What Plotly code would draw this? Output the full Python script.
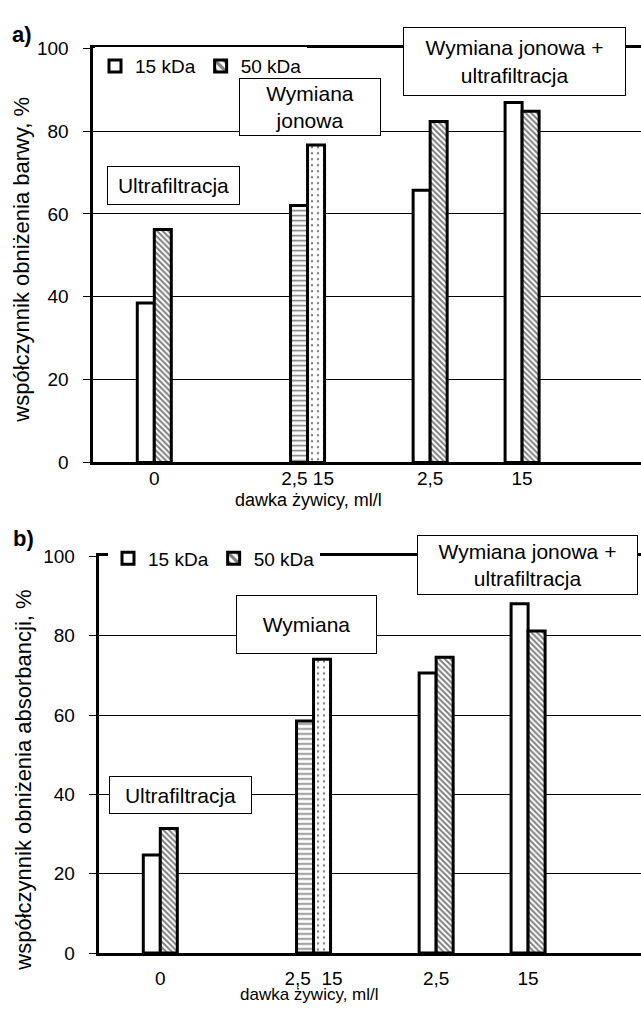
import plotly.graph_objects as go

W, H = 641, 1013

# ---- data ----
group_slots = [2, 7, 11, 14]          # slot index of each bar group along the dose axis
tick_labels_a = ["0", "2,5 15", "2,5", "15"]
tick_labels_b = ["0", "2,5  15", "2,5", "15"]
y_ticks = [0, 20, 40, 60, 80, 100]
series_names = ["15 kDa", "50 kDa"]

a_15kDa = [38.5, 62.0, 65.7, 86.9]
a_50kDa = [56.2, 76.6, 82.3, 84.8]
b_15kDa = [24.7, 58.5, 70.6, 88.1]
b_50kDa = [31.4, 74.1, 74.6, 81.2]

pattern_15 = ["", "-", "", ""]
pattern_50 = ["\\", ".", "\\", "\\"]

y_title_a = "współczynnik obniżenia barwy, %"
y_title_b = "współczynnik obniżenia absorbancji, %"
x_title = "dawka żywicy, ml/l"

FONT = "Liberation Sans, Arial, sans-serif"
UNIT = 30.65     # px per slot
BW = 0.555       # bar width in slots
GAP = "\u00a0\u00a0"  # keeps y tick labels away from the ticks

PAT_SIZE = {"": 5, "\\": 4, "-": 5, ".": 6}
PAT_SOLID = {"": 0.3, "\\": 0.5, "-": 0.32, ".": 0.12}


def px_x(x):
    return x / W


def px_y(y):
    return 1 - y / H


def bar(vals, shapes, name, xa, ya, legend, offset):
    return go.Bar(
        x=group_slots, y=vals, name=name, xaxis=xa, yaxis=ya, legend=legend,
        width=BW, offset=offset,
        marker=dict(color="white",
                    line=dict(color="black", width=3),
                    pattern=dict(shape=shapes, fgcolor="black", bgcolor="white",
                                 size=[PAT_SIZE[s] for s in shapes],
                                 solidity=[PAT_SOLID[s] for s in shapes],
                                 fillmode="overlay")),
        hoverinfo="skip",
    )


fig = go.Figure()
fig.add_trace(bar(a_15kDa, pattern_15, series_names[0], "x", "y", "legend", -BW))
fig.add_trace(bar(a_50kDa, pattern_50, series_names[1], "x", "y", "legend", 0))
fig.add_trace(bar(b_15kDa, pattern_15, series_names[0], "x2", "y2", "legend2", -BW))
fig.add_trace(bar(b_50kDa, pattern_50, series_names[1], "x2", "y2", "legend2", 0))

axis_common = dict(showgrid=False, zeroline=False, showline=True, mirror=True,
                   linecolor="black", ticks="",
                   tickfont=dict(family=FONT, size=19, color="black"))
yaxis_common = dict(range=[0, 100], tickvals=y_ticks,
                    ticktext=[f"{v}{GAP}" for v in y_ticks], showgrid=True,
                    gridcolor="black", gridwidth=1, zeroline=False, showline=True,
                    linecolor="black", ticks="outside", ticklen=7, tickwidth=1,
                    tickcolor="black",
                    tickfont=dict(family=FONT, size=19, color="black"))

fig.update_layout(
    width=W, height=H, margin=dict(l=0, r=0, t=0, b=0),
    paper_bgcolor="white", plot_bgcolor="white", barmode="overlay",
    font=dict(family=FONT, color="black"),
    xaxis=dict(axis_common, domain=[px_x(93), 1], range=[0, 548 / UNIT], linewidth=3,
               tickvals=group_slots, ticktext=tick_labels_a, ticklabelstandoff=-3,
               anchor="y"),
    yaxis=dict(yaxis_common, domain=[px_y(462), px_y(39)], linewidth=3, anchor="x"),
    xaxis2=dict(axis_common, domain=[px_x(99), 1], range=[0, 542 / UNIT], linewidth=2.5,
                tickvals=group_slots, ticktext=tick_labels_b, ticklabelstandoff=6,
                anchor="y2"),
    yaxis2=dict(yaxis_common, domain=[px_y(963), px_y(558)], linewidth=2.5, anchor="x2"),
    legend=dict(orientation="h", x=px_x(95), xanchor="left", y=px_y(38), yanchor="top",
                bgcolor="white", borderwidth=0, font=dict(family=FONT, size=19),
                itemwidth=30, tracegroupgap=0),
    legend2=dict(orientation="h", x=px_x(108), xanchor="left", y=px_y(560), yanchor="middle",
                 bgcolor="white", borderwidth=0, font=dict(family=FONT, size=19),
                 itemwidth=30, tracegroupgap=0),
)

# axis titles (text, x, y, angle, size, yanchor) in pixels
titles = [
    (y_title_a, 22, 255, -90, 22, "middle"),
    (y_title_b, 24, 787, -90, 22, "middle"),
    (x_title, 308, 500, 0, 18, "middle"),
    (x_title, 309, 1016, 0, 17, "bottom"),
]
for txt, x, y, ang, sz, ya in titles:
    fig.add_annotation(text=txt, xref="paper", yref="paper", x=px_x(x), y=px_y(y),
                       xanchor="center", yanchor=ya, showarrow=False, borderpad=0,
                       textangle=ang, font=dict(family=FONT, size=sz, color="black"))

# boxed process labels: (text, x-left, x-right, y-top, y-bottom) in pixels
boxes = [
    ("Ultrafiltracja", 107, 240, 160, 199),
    ("Wymiana<br>jonowa", 239, 381, 70, 128),
    ("Wymiana jonowa +<br>ultrafiltracja", 403, 626, 18, 87),
    ("Ultrafiltracja", 109, 252, 783, 821),
    ("Wymiana", 236, 377, 598, 657),
    ("Wymiana jonowa +<br>ultrafiltracja", 417, 638, 537, 597),
]
for txt, x0, x1, y0, y1 in boxes:
    fig.add_annotation(text=txt, xref="paper", yref="paper",
                       x=px_x((x0 + x1) / 2), y=px_y((y0 + y1) / 2),
                       xanchor="center", yanchor="middle", showarrow=False,
                       width=x1 - x0 - 2, height=y1 - y0 - 2, borderpad=0,
                       bordercolor="black", borderwidth=1, bgcolor="white",
                       font=dict(family=FONT, size=21, color="black"))

# panel letters
for txt, x, y in [("<b>a)</b>", 22, 25), ("<b>b)</b>", 23, 540)]:
    fig.add_annotation(text=txt, xref="paper", yref="paper", x=px_x(x), y=px_y(y),
                       xanchor="center", yanchor="middle", showarrow=False,
                       font=dict(family=FONT, size=22, color="black"))

fig.write_html("out.html")
